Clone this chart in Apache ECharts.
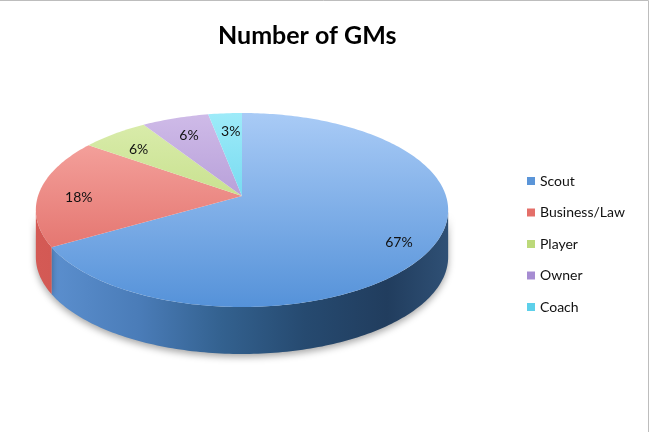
<!DOCTYPE html>
<html><head><meta charset="utf-8">
<script src="https://cdn.jsdelivr.net/npm/echarts@6/dist/echarts.min.js"></script>
<style>html,body{margin:0;padding:0;background:#fff}#c{width:650px;height:432px}</style>
</head><body><div id="c"></div>
<script>
const title = 'Number of GMs';
const categories = ['Scout', 'Business/Law', 'Player', 'Owner', 'Coach'];
const values = [22, 6, 2, 2, 1];
const legendColors = ['#5b95d8', '#e46f69', '#bcd97a', '#a68cd2', '#5dd0ea'];
const topColors = [
  ['#a9cbf6', '#5592d9'],
  ['#f8aca7', '#dc5f59'],
  ['#dbedae', '#b1d268'],
  ['#cfbbe8', '#9a7dc6'],
  ['#9eebf9', '#44c5e5']
];
const wallColors = [
  [[0, '#5e92d2'], [0.25, '#4a7cb8'], [0.45, '#33618f'], [0.65, '#264a70'], [0.85, '#213d5e'], [1, '#2f5075']],
  [[0, '#d45a55'], [1, '#b8443f']],
  [[0, '#a8c45e'], [1, '#8aa648']],
  [[0, '#8a6db5'], [1, '#6f5596']],
  [[0, '#3fb5d2'], [1, '#2c93ae']]
];

const total = values.reduce((a, b) => a + b, 0);
const starts = [];
let acc = 0;
values.forEach(v => { starts.push(acc / total * 360); acc += v; });

// perspective projection of the pie plane
const CX = 242, CY = 196, A = 204, B = 66.7, C = -0.1443, DEPTH = 47;
function proj(phiDeg, r, dy) {
  const p = phiDeg * Math.PI / 180;
  const u = Math.sin(p) * r, v = -Math.cos(p) * r;
  const w = 1 + C * v;
  return [CX + A * u / w, (B * v + CY) / w + (dy || 0)];
}
const FRONT0 = 98.3, FRONT1 = 261.7;

function arcPts(a0, a1, dy) {
  const pts = [];
  const n = Math.max(2, Math.ceil((a1 - a0) / 1));
  for (let k = 0; k <= n; k++) pts.push(proj(a0 + (a1 - a0) * k / n, 1, dy));
  return pts;
}

function renderItem(params, api) {
  const i = params.dataIndex;
  const a0 = starts[i];
  const a1 = a0 + api.value(0) / total * 360;
  const children = [];
  const w0 = Math.max(a0, FRONT0), w1 = Math.min(a1, FRONT1);
  if (w1 > w0) {
    const top = arcPts(w0, w1, 0);
    const bot = arcPts(w0, w1, DEPTH).reverse();
    children.push({
      type: 'polygon', z2: 1,
      shape: { points: top.concat(bot) },
      style: {
        fill: { type: 'linear', x: 36, y: 0, x2: 449, y2: 0, global: true,
          colorStops: wallColors[i].map(s => ({ offset: s[0], color: s[1] })) },
        shadowBlur: 7, shadowColor: 'rgba(0,0,0,0.35)', shadowOffsetY: 3
      }
    });
  }
  const face = [proj(0, 0, 0)].concat(arcPts(a0, a1, 0));
  children.push({
    type: 'polygon', z2: 10,
    shape: { points: face },
    style: {
      fill: { type: 'linear', x: 0, y: 113, x2: 0, y2: 307, global: true,
        colorStops: [{ offset: 0, color: topColors[i][0] }, { offset: 1, color: topColors[i][1] }] }
    }
  });
  const mid = (a0 + a1) / 2;
  const lp = proj(mid, 0.82, 5);
  children.push({
    type: 'text', z2: 20,
    style: {
      text: Math.round(api.value(0) / total * 100) + '%',
      x: lp[0] + 3, y: lp[1], align: 'center', verticalAlign: 'middle',
      fill: '#111', font: '14px Lato'
    }
  });
  return { type: 'group', children };
}

const chart = echarts.init(document.getElementById('c'));
chart.setOption({
  animation: false,
  backgroundColor: '#fff',
  title: {
    text: title, left: 213, top: 18,
    textStyle: { fontFamily: 'Lato', fontWeight: 'bold', fontSize: 25, color: '#000' }
  },
  legend: {
    orient: 'vertical', left: 522, top: 168,
    icon: 'rect', itemWidth: 8, itemHeight: 8, itemGap: 15.5,
    data: categories,
    textStyle: { fontFamily: 'Lato', fontSize: 14, color: '#111', lineHeight: 16 }
  },
  graphic: [{
    type: 'rect', silent: true,
    shape: { x: -5, y: 0.5, width: 653.5, height: 440 },
    style: { fill: 'none', stroke: '#bdbdbd', lineWidth: 1 }
  }],
  series: [
    {
      type: 'custom', coordinateSystem: 'none', silent: true,
      renderItem: renderItem,
      data: values.map((v, i) => ({ name: categories[i], value: [v] }))
    },
    {
      type: 'pie', radius: 0, center: [-100, -100], silent: true,
      label: { show: false }, labelLine: { show: false },
      data: values.map((v, i) => ({ name: categories[i], value: v, itemStyle: { color: legendColors[i] } }))
    }
  ]
});
</script></body></html>
